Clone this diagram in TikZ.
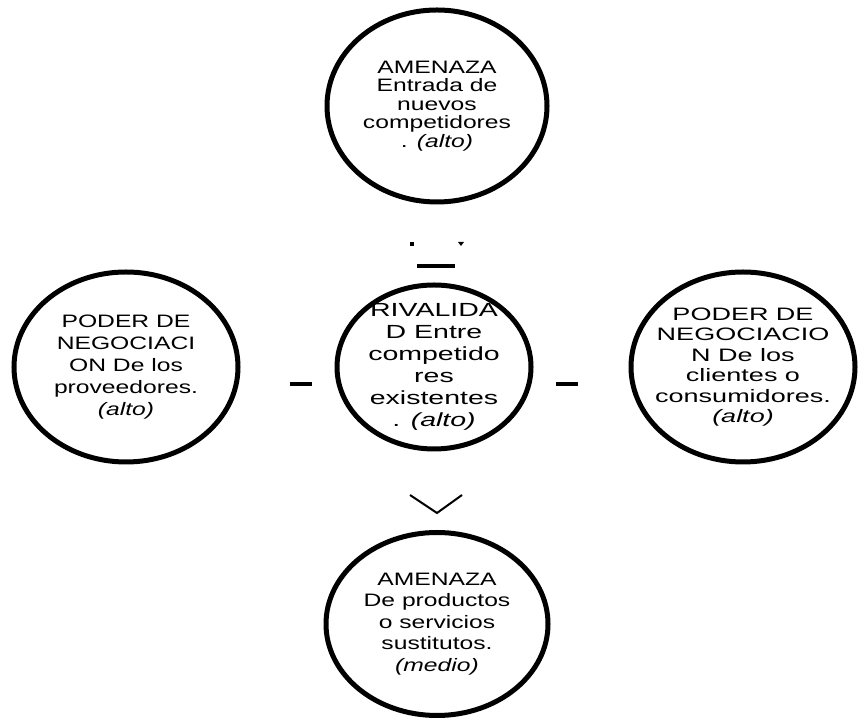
\documentclass[tikz,border=0pt]{standalone}
\usepackage{fontspec}
\newfontfamily\circfont{Liberation Sans}[FakeStretch=1.37]
\newfontfamily\widefont{Liberation Sans}[FakeStretch=1.5]
\usetikzlibrary{shapes.geometric}

\begin{document}
\begin{tikzpicture}[x=1pt, y=1pt, node distance=308pt,
    force/.style={ellipse, draw, line width=5pt, inner sep=-50pt, align=center},
    stub/.style={line width=4pt}]
    \useasboundingbox (0,0) rectangle (859,719);

    % Nodes {riv, entrada, prov, cli, sust}
    \node [force, minimum width=194pt, minimum height=164pt,
           font=\widefont\fontsize{19}{22}\selectfont] (riv) at (434,352)
           {RIVALIDA\\D Entre\\competido\\res\\existentes\\. \textit{(alto)}};
    \node [force, minimum width=220pt, minimum height=192pt,
           font=\circfont\fontsize{18}{18.5}\selectfont] (entrada)
           [above of=riv, node distance=261pt, xshift=3pt]
           {AMENAZA\\Entrada de\\nuevos\\competidores\\. \textit{(alto)}};
    \node [force, minimum width=224pt, minimum height=190pt,
           font=\circfont\fontsize{18}{22}\selectfont] (prov) [left of=riv]
           {PODER DE\\NEGOCIACI\\ON De los\\proveedores.\\\textit{(alto)}};
    \node [force, minimum width=224pt, minimum height=190pt,
           font=\widefont\fontsize{18}{20.5}\selectfont] (cli)
           [right of=riv, node distance=309pt]
           {PODER DE\\NEGOCIACIO\\N De los\\clientes o\\consumidores.\\\textit{(alto)}};
    \node [force, minimum width=222pt, minimum height=183pt,
           font=\circfont\fontsize{18}{21.5}\selectfont] (sust)
           [below of=riv, node distance=257pt, xshift=3pt]
           {AMENAZA\\De productos\\o servicios\\sustitutos.\\\textit{(medio)}};

    % Stubs left of the arrows
    \coordinate (d1) at ([xshift=-24pt,yshift=121pt]riv.center);
    \coordinate (d2) at ([xshift=27pt,yshift=125pt]riv.center);
    \coordinate (barL) at ([xshift=-17pt,yshift=101pt]riv.center);
    \coordinate (barR) at ([xshift=21pt,yshift=101pt]riv.center);
    \coordinate (lfA) at ([xshift=-144pt,yshift=-17pt]riv.center);
    \coordinate (lfB) at ([xshift=-122pt,yshift=-17pt]riv.center);
    \coordinate (rtA) at ([xshift=122pt,yshift=-17pt]riv.center);
    \coordinate (rtB) at ([xshift=144pt,yshift=-17pt]riv.center);
    \coordinate (vL) at ([xshift=-24pt,yshift=-128pt]riv.center);
    \coordinate (vT) at ([xshift=3pt,yshift=-146pt]riv.center);
    \coordinate (vR) at ([xshift=28pt,yshift=-128pt]riv.center);

    % Paths
    \fill (d1) rectangle ++(4,4);
    \fill (d2) -- ++(-3,0) -- ++(3,-4) -- ++(3,4) -- cycle;
    \draw [stub] (barL) -- (barR);
    \draw [stub] (lfA) -- (lfB);
    \draw [stub] (rtA) -- (rtB);
    \draw [line width=2pt] (vL) -- (vT) -- (vR);
\end{tikzpicture}
\end{document}
